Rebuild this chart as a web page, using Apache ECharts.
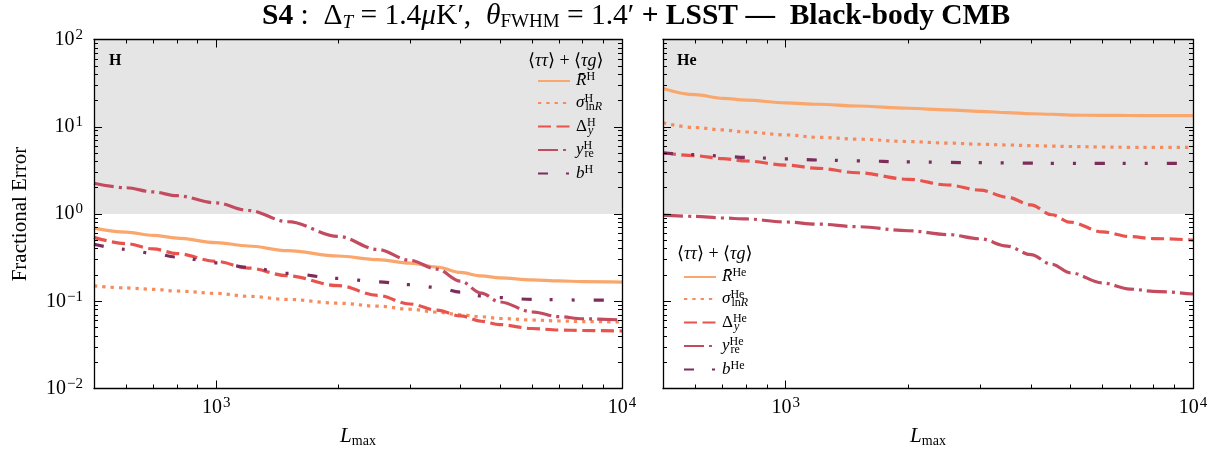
<!DOCTYPE html>
<html>
<head>
<meta charset="utf-8">
<script src="https://cdn.jsdelivr.net/npm/echarts@6/dist/echarts.min.js"></script>
<style>html,body{margin:0;padding:0;background:#fff;}#c{width:1222px;height:455px;}</style>
</head>
<body>
<div id="c"></div>
<script>
// ---- data ----
const L = [500, 600, 700, 800, 1000, 1200, 1500, 2000, 2500, 3000, 3500, 4000, 4500, 5000, 6000, 7000, 8000, 10000];

const R_H   = [0.69, 0.62, 0.57, 0.53, 0.47, 0.43, 0.38, 0.33, 0.30, 0.274, 0.247, 0.214, 0.195, 0.185, 0.176, 0.171, 0.168, 0.166];
const sig_H = [0.150, 0.142, 0.137, 0.131, 0.123, 0.114, 0.105, 0.095, 0.088, 0.081, 0.075, 0.070, 0.0665, 0.0635, 0.061, 0.0594, 0.0585, 0.0578];
const Del_H = [0.54, 0.457, 0.398, 0.352, 0.286, 0.240, 0.196, 0.151, 0.117, 0.093, 0.079, 0.068, 0.059, 0.054, 0.0487, 0.0468, 0.0462, 0.0456];
const yre_H = [2.25, 2.00, 1.79, 1.62, 1.34, 1.10, 0.817, 0.553, 0.392, 0.295, 0.233, 0.170, 0.124, 0.098, 0.0757, 0.0665, 0.063, 0.061];
const b_H   = [0.45, 0.394, 0.352, 0.321, 0.275, 0.245, 0.209, 0.183, 0.167, 0.155, 0.144, 0.127, 0.115, 0.110, 0.105, 0.104, 0.103, 0.103];

const R_He   = [27.5, 23.3, 21.2, 20.2, 18.8, 18.1, 17.3, 16.3, 15.6, 15.0, 14.5, 14.1, 13.9, 13.6, 13.5, 13.45, 13.4, 13.4];
const sig_He = [11.1, 9.8, 9.19, 8.71, 8.07, 7.57, 7.21, 6.77, 6.50, 6.30, 6.18, 6.08, 6.00, 5.94, 5.86, 5.81, 5.81, 5.81];
const Del_He = [5.04, 4.65, 4.31, 4.05, 3.64, 3.34, 2.97, 2.50, 2.15, 1.88, 1.56, 1.27, 0.98, 0.805, 0.624, 0.551, 0.523, 0.503];
const yre_He = [0.97, 0.94, 0.90, 0.877, 0.81, 0.766, 0.715, 0.643, 0.581, 0.52, 0.428, 0.342, 0.265, 0.212, 0.162, 0.138, 0.130, 0.121];
const b_He   = [5.0, 4.80, 4.60, 4.45, 4.28, 4.16, 4.06, 3.96, 3.90, 3.87, 3.85, 3.83, 3.81, 3.81, 3.81, 3.81, 3.81, 3.81];

const xMajor = [1000, 10000];
const xMinor = [600, 700, 800, 900, 2000, 3000, 4000, 5000, 6000, 7000, 8000, 9000];
const yMajor = [0.01, 0.1, 1, 10, 100];
const yMinor = [];
[0.01, 0.1, 1, 10].forEach(d => { for (let k = 2; k <= 9; k++) yMinor.push(+(d * k).toPrecision(3)); });

const shadeRange = [1, 100];

// ---- styling ----
const FONT = '"Liberation Serif", "DejaVu Serif", serif';
const COLORS = { R: '#f9a76c', s: '#f78b5c', D: '#e8534e', y: '#c24b5f', b: '#7c2d5b' };
const DASH = { R: 'solid', s: [3.3, 5], D: [13, 5.5], y: [20, 5, 3, 5], b: [10, 18, 3, 19, 3, 19] };

function pair(ys) { return L.map((x, i) => [x, ys[i]]); }

function powLabel(v) {
  const e = Math.round(Math.log10(v));
  return '{n|10}{sup|' + (e < 0 ? '\u2212' + (-e) : e) + '}';
}
const tickRich = {
  n: { fontFamily: FONT, fontSize: 20, lineHeight: 24, color: '#000' },
  sup: { fontFamily: FONT, fontSize: 15, lineHeight: 14, verticalAlign: 'top', padding: [0, 0, 0, 1], color: '#000' }
};

function xAxesFor(g) {
  const base = { type: 'log', logBase: 10, gridIndex: g, min: 500, max: 10000, splitLine: { show: false }, z: 10 };
  return [
    Object.assign({}, base, {
      position: 'bottom',
      axisLine: { show: true, onZero: false, lineStyle: { color: '#000', width: 1.3 } },
      axisTick: { show: true, inside: true, length: 8, customValues: xMajor, lineStyle: { color: '#000', width: 1 } },
      axisLabel: { show: true, customValues: xMajor, formatter: powLabel, rich: tickRich, margin: 7 },
      name: '{i|L}{sub|max}', nameLocation: 'middle', nameGap: 35,
      nameTextStyle: { rich: {
        i: { fontFamily: FONT, fontSize: 21, fontStyle: 'italic', lineHeight: 25, color: '#000' },
        sub: { fontFamily: FONT, fontSize: 14, lineHeight: 14, verticalAlign: 'bottom', color: '#000' } } }
    }),
    Object.assign({}, base, {
      position: 'bottom',
      axisLine: { show: false, onZero: false },
      axisTick: { show: true, inside: true, length: 4, customValues: xMinor, lineStyle: { color: '#000', width: 1 } },
      axisLabel: { show: false }
    }),
    Object.assign({}, base, {
      position: 'top',
      axisLine: { show: true, onZero: false, lineStyle: { color: '#000', width: 1.3 } },
      axisTick: { show: true, inside: true, length: 8, customValues: xMajor, lineStyle: { color: '#000', width: 1 } },
      axisLabel: { show: false }
    }),
    Object.assign({}, base, {
      position: 'top',
      axisLine: { show: false, onZero: false },
      axisTick: { show: true, inside: true, length: 4, customValues: xMinor, lineStyle: { color: '#000', width: 1 } },
      axisLabel: { show: false }
    })
  ];
}

function yAxesFor(g, withLabels) {
  const base = { type: 'log', logBase: 10, gridIndex: g, min: 0.01, max: 100, splitLine: { show: false }, z: 10 };
  const main = Object.assign({}, base, {
    position: 'left',
    axisLine: { show: true, onZero: false, lineStyle: { color: '#000', width: 1.3 } },
    axisTick: { show: true, inside: true, length: 8, customValues: yMajor, lineStyle: { color: '#000', width: 1 } },
    axisLabel: { show: withLabels, customValues: yMajor, formatter: powLabel, rich: tickRich, margin: 11 }
  });
  if (withLabels) {
    main.name = 'Fractional Error';
    main.nameLocation = 'middle';
    main.nameGap = 63;
    main.nameTextStyle = { fontFamily: FONT, fontSize: 21, color: '#000' };
  }
  return [
    main,
    Object.assign({}, base, {
      position: 'left',
      axisLine: { show: false, onZero: false },
      axisTick: { show: true, inside: true, length: 4, customValues: yMinor, lineStyle: { color: '#000', width: 1 } },
      axisLabel: { show: false }
    }),
    Object.assign({}, base, {
      position: 'right',
      axisLine: { show: true, onZero: false, lineStyle: { color: '#000', width: 1.3 } },
      axisTick: { show: true, inside: true, length: 8, customValues: yMajor, lineStyle: { color: '#000', width: 1 } },
      axisLabel: { show: false }
    }),
    Object.assign({}, base, {
      position: 'right',
      axisLine: { show: false, onZero: false },
      axisTick: { show: true, inside: true, length: 4, customValues: yMinor, lineStyle: { color: '#000', width: 1 } },
      axisLabel: { show: false }
    })
  ];
}

function lineSeries(name, key, ys, g, withShade) {
  const s = {
    name: name, type: 'line', xAxisIndex: g * 4, yAxisIndex: g * 4,
    data: pair(ys), symbol: 'none', smooth: 0.35, smoothMonotone: 'x',
    lineStyle: { color: COLORS[key], width: 3.2, type: DASH[key], cap: 'butt' },
    itemStyle: { color: COLORS[key] },
    z: 3
  };
  if (withShade) {
    s.markArea = {
      silent: true,
      itemStyle: { color: '#e5e5e5' },
      data: [[{ xAxis: 500, yAxis: shadeRange[0] }, { xAxis: 10000, yAxis: shadeRange[1] }]]
    };
  }
  return s;
}

const legendLabels = {
  RH: '{i|R\u0304}{sup|H}',
  sH: '{i|\u03c3}{supw|H}{sub|ln}{subi|R}',
  DH: '{r|\u0394}{supw|H}{subi|y}',
  yH: '{i|y}{supw|H}{sub|re}',
  bH: '{i|b}{sup|H}',
  RHe: '{i|R\u0304}{sup|He}',
  sHe: '{i|\u03c3}{supw|He}{sub|ln}{subi|R}',
  DHe: '{r|\u0394}{supw|He}{subi|y}',
  yHe: '{i|y}{supw|He}{sub|re}',
  bHe: '{i|b}{sup|He}'
};
const legendRich = {
  i: { fontFamily: FONT, fontSize: 17, fontStyle: 'italic', lineHeight: 20, color: '#000' },
  r: { fontFamily: FONT, fontSize: 17, lineHeight: 20, color: '#000' },
  sup: { fontFamily: FONT, fontSize: 12, lineHeight: 11, verticalAlign: 'top', color: '#000' },
  supw: { fontFamily: FONT, fontSize: 12, lineHeight: 11, verticalAlign: 'top', width: 1, color: '#000' },
  sub: { fontFamily: FONT, fontSize: 12, lineHeight: 11, verticalAlign: 'bottom', color: '#000' },
  subi: { fontFamily: FONT, fontSize: 12, lineHeight: 11, verticalAlign: 'bottom', fontStyle: 'italic', color: '#000' }
};
function legendFor(names, left, top) {
  return {
    orient: 'vertical', left: left, top: top, padding: 0, itemWidth: 32, itemHeight: 12, itemGap: 3.5,
    selectedMode: false, data: names, formatter: n => legendLabels[n],
    itemStyle: { color: 'rgba(0,0,0,0)', borderWidth: 0, opacity: 0 },
    textStyle: { rich: legendRich, padding: [0, 0, 0, 1] }
  };
}

const headerRich = {
  n: { fontFamily: FONT, fontSize: 18, fontWeight: 'normal', color: '#000' },
  i: { fontFamily: FONT, fontSize: 18, fontStyle: 'italic', fontWeight: 'normal', color: '#000' }
};
const headerText = '{n|\u27e8}{i|\u03c4\u03c4}{n|\u27e9 + \u27e8}{i|\u03c4g}{n|\u27e9}';

const option = {
  backgroundColor: '#fff',
  animation: false,
  title: [
    {
      left: 262, top: 0, padding: 0,
      text: '{b|S4}{n| :  \u0394}{isub|T}{n| = 1.4}{i|\u03bc}{n|K\u2032,  }{i|\u03b8}{sub|FWHM}{n| = 1.4\u2032 }{b|+ LSST \u2014  Black-body CMB}',
      textStyle: { rich: {
        b: { fontFamily: FONT, fontSize: 29.5, fontWeight: 'bold', lineHeight: 32, color: '#000' },
        n: { fontFamily: FONT, fontSize: 29.5, fontWeight: 'normal', lineHeight: 32, color: '#000' },
        i: { fontFamily: FONT, fontSize: 29.5, fontStyle: 'italic', fontWeight: 'normal', lineHeight: 32, color: '#000' },
        sub: { fontFamily: FONT, fontSize: 19, fontWeight: 'normal', lineHeight: 17, verticalAlign: 'bottom', color: '#000' },
        isub: { fontFamily: FONT, fontSize: 19, fontWeight: 'normal', lineHeight: 17, verticalAlign: 'bottom', fontStyle: 'italic', color: '#000' }
      } }
    },
    { text: 'H', left: 104, top: 48, textStyle: { fontFamily: FONT, fontSize: 16, fontWeight: 'bold', color: '#000' } },
    { text: 'He', left: 672, top: 48, textStyle: { fontFamily: FONT, fontSize: 16, fontWeight: 'bold', color: '#000' } },
    { text: headerText, left: 528, top: 52, padding: 0, textStyle: { rich: headerRich } },
    { text: headerText, left: 677, top: 245, padding: 0, textStyle: { rich: headerRich } }
  ],
  grid: [
    { left: 94, top: 39.5, width: 528, height: 349, outerBoundsMode: 'none', containLabel: false },
    { left: 663, top: 39.5, width: 530, height: 349, outerBoundsMode: 'none', containLabel: false }
  ],
  xAxis: xAxesFor(0).concat(xAxesFor(1)),
  yAxis: yAxesFor(0, true).concat(yAxesFor(1, false)),
  legend: [
    legendFor(['RH', 'sH', 'DH', 'yH', 'bH'], 537, 71),
    legendFor(['RHe', 'sHe', 'DHe', 'yHe', 'bHe'], 683, 267)
  ],
  series: [
    lineSeries('RH', 'R', R_H, 0, true),
    lineSeries('sH', 's', sig_H, 0),
    lineSeries('DH', 'D', Del_H, 0),
    lineSeries('yH', 'y', yre_H, 0),
    lineSeries('bH', 'b', b_H, 0),
    lineSeries('RHe', 'R', R_He, 1, true),
    lineSeries('sHe', 's', sig_He, 1),
    lineSeries('DHe', 'D', Del_He, 1),
    lineSeries('yHe', 'y', yre_He, 1),
    lineSeries('bHe', 'b', b_He, 1)
  ]
};

const chart = echarts.init(document.getElementById('c'), null, { renderer: 'canvas' });
chart.setOption(option);
</script>
</body>
</html>
